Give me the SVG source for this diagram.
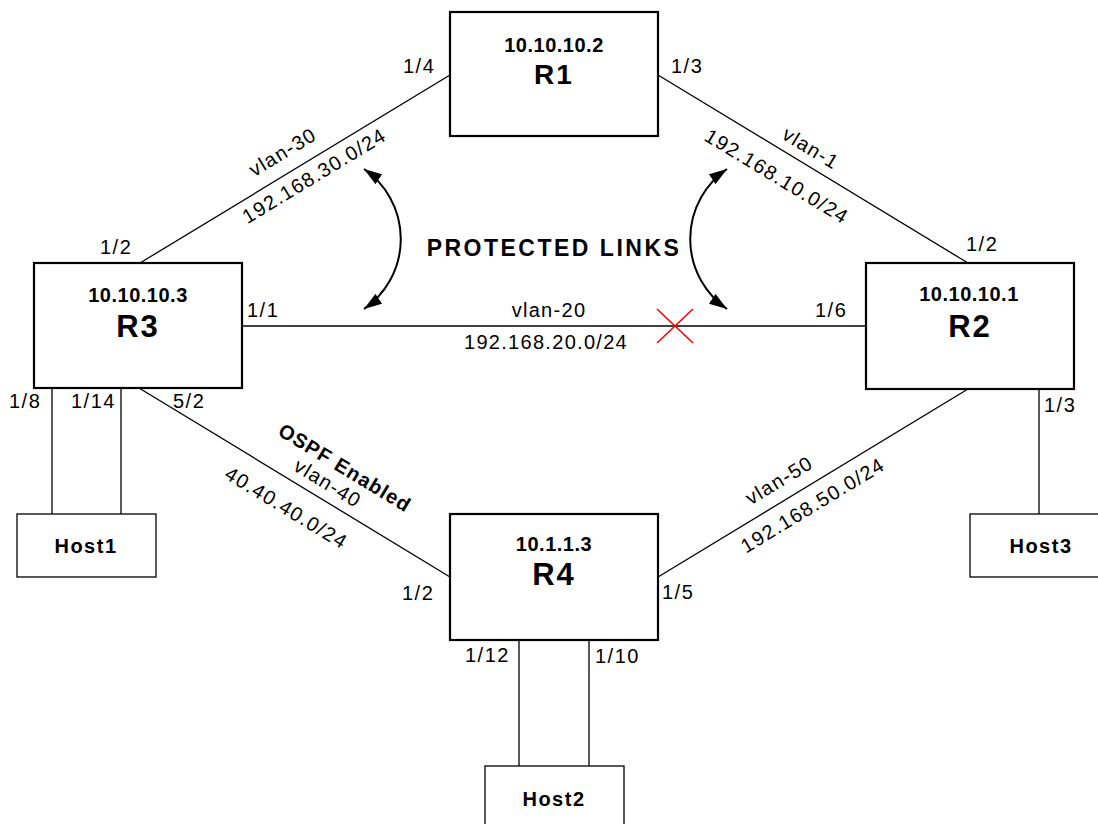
<svg xmlns="http://www.w3.org/2000/svg" width="1098" height="824" viewBox="0 0 1098 824">
<defs>
<style>
.box{fill:#fff;stroke:#000;stroke-width:2.2}
.hbox{fill:#fff;stroke:#000;stroke-width:1.3}
.ln{fill:none;stroke:#000;stroke-width:1.3}
.arc{fill:none;stroke:#000;stroke-width:2;marker-start:url(#ah);marker-end:url(#ah)}
.x{stroke:#ff0000;stroke-width:1.6}
text{font-family:"Liberation Sans",Arial,Helvetica,sans-serif;fill:#000}
.p{font-size:20px;letter-spacing:1.5px}
.n{font-size:20px;letter-spacing:1.3px}
.ip{font-size:20px;font-weight:bold;letter-spacing:0.5px}
.rn{font-size:31px;font-weight:bold;letter-spacing:2px}
.hn{font-size:20px;font-weight:bold;letter-spacing:1.5px}
.pl{font-size:23px;font-weight:bold;letter-spacing:2.5px}
.os{font-size:20px;font-weight:bold;letter-spacing:1.1px}
.c{text-anchor:middle}
</style>
<marker id="ah" viewBox="0 0 18 12" refX="18" refY="6" markerWidth="18" markerHeight="12" markerUnits="userSpaceOnUse" orient="auto-start-reverse">
<path d="M0,0 L18,6 L0,12 z" fill="#000"/>
</marker>
</defs>
<rect width="1098" height="824" fill="#fff"/>

<g id="connectors">
<path class="ln" d="M450,75 L140,263"/>
<path class="ln" d="M658,75 L968,263"/>
<path class="ln" d="M242,326 L866,326"/>
<path class="ln" d="M139,388 L450,577"/>
<path class="ln" d="M658,577 L968,389"/>
<path class="ln" d="M52,388 V514 M121,388 V514"/>
<path class="ln" d="M1039,389 V514"/>
<path class="ln" d="M519,640 V766 M589,640 V766"/>

<text class="p" x="403" y="73">1/4</text>
<text class="p" x="671" y="73">1/3</text>
<text class="p" x="100" y="254">1/2</text>
<text class="p" x="247" y="317">1/1</text>
<text class="p" x="9" y="408">1/8</text>
<text class="p" x="71" y="408">1/14</text>
<text class="p" x="173" y="408">5/2</text>
<text class="p" x="966" y="251">1/2</text>
<text class="p" x="815" y="317">1/6</text>
<text class="p" x="1044" y="412">1/3</text>
<text class="p" x="402" y="600">1/2</text>
<text class="p" x="662" y="599">1/5</text>
<text class="p" x="465" y="662">1/12</text>
<text class="p" x="595" y="663">1/10</text>

<text class="n c" x="549" y="317">vlan-20</text>
<text class="n c" x="546" y="349">192.168.20.0/24</text>
<text class="n c" transform="translate(282.5,151.7) rotate(-31.2)" dy="0.36em">vlan-30</text>
<text class="n c" transform="translate(314,175.5) rotate(-31.2)" dy="0.36em">192.168.30.0/24</text>
<text class="n c" transform="translate(811,148) rotate(31.2)" dy="0.36em">vlan-1</text>
<text class="n c" transform="translate(777,176) rotate(31.2)" dy="0.36em">192.168.10.0/24</text>
<text class="os c" transform="translate(345,467.5) rotate(31.3)" dy="0.36em">OSPF Enabled</text>
<text class="n c" transform="translate(328,483) rotate(31.3)" dy="0.36em">vlan-40</text>
<text class="n c" transform="translate(286.5,507.5) rotate(31.3)" dy="0.36em">40.40.40.0/24</text>
<text class="n c" transform="translate(779,480) rotate(-31.2)" dy="0.36em">vlan-50</text>
<text class="n c" transform="translate(812.5,505) rotate(-31.2)" dy="0.36em">192.168.50.0/24</text>
</g>

<g id="protected-links">
<path class="arc" d="M364,169 A85,85 0 0 1 364,309"/>
<path class="arc" d="M727,169 A85,85 0 0 0 727,309"/>
<text class="pl c" x="554" y="256">PROTECTED LINKS</text>
</g>

<g id="link-failure">
<path class="x" d="M657,309 L693,343 M657,343 L693,309"/>
</g>

<g id="R1">
<rect class="box" x="450" y="12" width="208" height="124"/>
<text class="ip c" x="554" y="52">10.10.10.2</text>
<text class="rn c" x="554" y="84" style="font-size:28px">R1</text>
</g>
<g id="R3">
<rect class="box" x="34" y="263" width="208" height="125"/>
<text class="ip c" x="138" y="302">10.10.10.3</text>
<text class="rn c" x="138" y="337">R3</text>
</g>
<g id="R2">
<rect class="box" x="866" y="263" width="208" height="126"/>
<text class="ip c" x="969" y="301">10.10.10.1</text>
<text class="rn c" x="970" y="337">R2</text>
</g>
<g id="R4">
<rect class="box" x="450" y="514" width="208" height="126"/>
<text class="ip c" x="554" y="551">10.1.1.3</text>
<text class="rn c" x="554" y="585">R4</text>
</g>
<g id="Host1">
<rect class="hbox" x="17" y="514" width="139" height="63"/>
<text class="hn c" x="86" y="553">Host1</text>
</g>
<g id="Host3">
<rect class="hbox" x="970" y="514" width="139" height="63"/>
<text class="hn c" x="1041" y="553">Host3</text>
</g>
<g id="Host2">
<rect class="hbox" x="485" y="766" width="139" height="63"/>
<text class="hn c" x="554" y="806">Host2</text>
</g>
</svg>
